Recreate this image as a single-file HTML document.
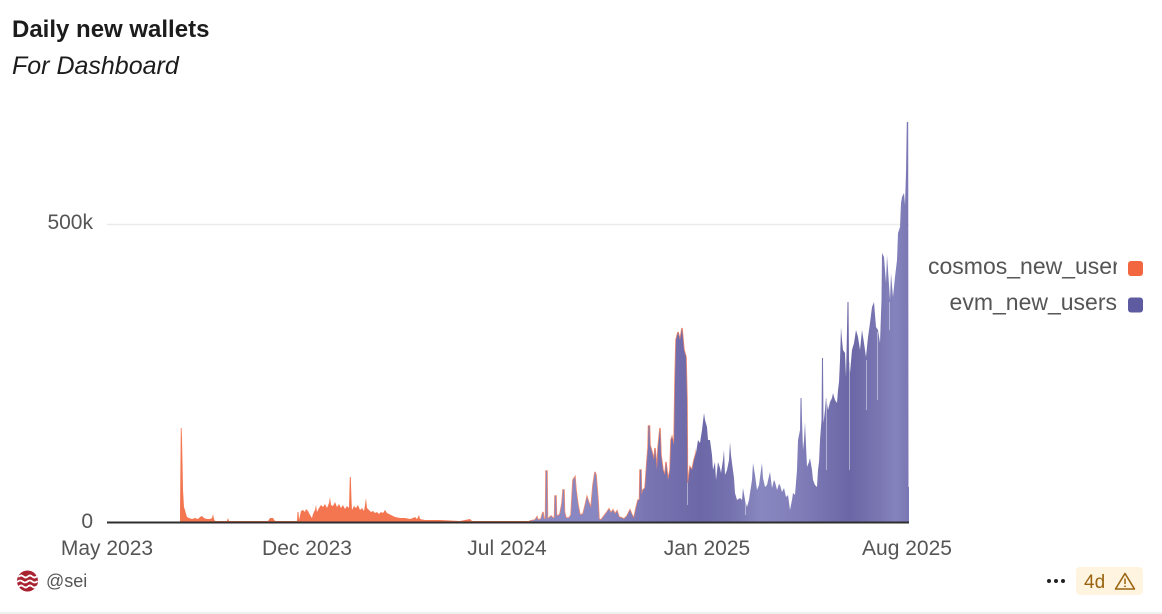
<!DOCTYPE html>
<html><head><meta charset="utf-8">
<style>
html,body{margin:0;padding:0;background:#fff;}
body{width:1162px;height:614px;overflow:hidden;position:relative;font-family:"Liberation Sans",sans-serif;}
.leg{position:absolute;left:928px;width:189px;overflow:hidden;white-space:nowrap;text-align:right;font-size:23px;color:#555;line-height:28px;}
</style></head>
<body>
<svg width="1162" height="614" viewBox="0 0 1162 614" xmlns="http://www.w3.org/2000/svg" style="position:absolute;left:0;top:0">
<defs>
<linearGradient id="pg" gradientUnits="userSpaceOnUse" x1="530" y1="0" x2="909" y2="0">
<stop offset="0" stop-color="#8a88c2"/>
<stop offset="0.185" stop-color="#8987c1"/>
<stop offset="0.317" stop-color="#7874b2"/>
<stop offset="0.449" stop-color="#6c68a7"/>
<stop offset="0.528" stop-color="#7471ae"/>
<stop offset="0.607" stop-color="#8987bf"/>
<stop offset="0.712" stop-color="#807db9"/>
<stop offset="0.844" stop-color="#6b67a6"/>
<stop offset="0.923" stop-color="#7a77b3"/>
<stop offset="0.963" stop-color="#8583bd"/>
<stop offset="1" stop-color="#7a77b4"/>
</linearGradient>
<clipPath id="oc"><rect x="526" y="300" width="170" height="221"/></clipPath>
<path id="pur" d="M530,522 L530,521 L535,520 L537,517 L538,520 L541,519 L543,512 L544,519 L545.5,519 L546,471 L547,471 L547.5,519 L549,518 L551,516 L553,518 L554.5,518 L555,496 L556,496 L556.5,515 L558,516 L560,514 L562,503 L563,490 L564,490 L564.5,512 L566,518 L569,518 L571,515 L573,480 L575,477 L576,490 L578,505 L580,515 L583,514 L585,506 L587,497 L589,503 L591,508 L593,485 L595,472 L596,475 L598,500 L599,519 L601,520 L604,516 L607,512 L609,509 L611,513 L613,510 L615,514 L617,511 L619,517 L622,518 L624,519 L627,516 L629,512 L630,510 L632,515 L634,518 L636,508 L638,500 L639.5,500 L640,470 L641,470 L641.5,495 L643,490 L645,488 L647,460 L648,448 L648.5,426 L649.5,426 L650,445 L652,452 L654,460 L655,448 L657,470 L658,448 L660,428 L661,455 L663,470 L665,475 L666,462 L668,480 L670,470 L671,440 L672,437 L674,445 L675,380 L676,340 L678,332 L680,340 L682,328 L684,350 L686,357 L687,400 L687.5,483 L688,483 L690,467 L692,470 L694,460 L696,453 L698,440 L700,443 L702,430 L704,413 L705,420 L707,427 L708,440 L710,440 L712,455 L713,470 L715,462 L716,480 L718,462 L720,468 L721,473 L723,460 L724,450 L725,475 L727,470 L729,460 L730,442 L731,455 L732,463 L734,478 L735,493 L737,500 L740,498 L742,500 L743,488 L745,500 L747,507 L749,500 L750,493 L752,480 L753,463 L755,475 L757,490 L759,485 L761,470 L762,463 L763,478 L765,487 L767,485 L769,476 L770,472 L772,488 L774,480 L775,482 L777,490 L779,484 L780,485 L782,492 L784,488 L786,497 L788,495 L790,510 L792,500 L793,493 L795,495 L797,470 L798,440 L800,430 L800.5,398 L801.5,398 L802,420 L803,450 L804,440 L805,422 L806,445 L807,467 L809,462 L810,458 L812,470 L813,480 L815,485 L817,487 L818,470 L819,462 L820,440 L821.5,420 L822,358 L823,358 L823.5,423 L825,410 L826,397 L828,410 L830,402 L832,398 L833,393 L835,400 L837,403 L838,390 L839,382 L840,360 L841,327 L842,340 L843,350 L845,353 L846,377 L847,330 L847.5,302 L848.5,302 L849,360 L850,373 L852,350 L854,343 L856,330 L858,337 L860,350 L862,330 L864,343 L866,357 L868,337 L870,323 L872,307 L874,302 L876,327 L878,330 L880,343 L881.5,300 L882,253 L884,257 L886,283 L887,255 L888,270 L890,300 L891,273 L893,297 L895,277 L897,260 L898,233 L900,227 L901,203 L902,197 L904,193 L905,205 L906,172 L906.8,122 L908.2,122 L908.5,487 L909,487 L909,522 Z"/>
</defs>

<!-- title -->
<text x="12" y="37" font-family="Liberation Sans, sans-serif" font-size="24" font-weight="bold" fill="#1c1c1c">Daily new wallets</text>
<text x="12" y="74" font-family="Liberation Sans, sans-serif" font-size="25" font-style="italic" fill="#1c1c1c">For Dashboard</text>

<!-- gridline -->
<line x1="107" y1="224.5" x2="909" y2="224.5" stroke="#ebebeb" stroke-width="1.5"/>

<!-- y labels -->
<text x="93" y="229" text-anchor="end" font-family="Liberation Sans, sans-serif" font-size="21" fill="#555">500k</text>
<text x="93" y="528" text-anchor="end" font-family="Liberation Sans, sans-serif" font-size="21" fill="#555">0</text>

<!-- orange series -->
<path fill="#f37650" d="M180,522 L180,512 L180.8,428 L181.6,428 L182,440 L182.5,463 L183,490 L184,507 L185,510 L186,514 L187,517 L189,518 L192,519 L195,518 L198,519 L200,517 L202,516 L204,518 L207,519 L210,519 L212,518 L213,514 L214,519 L215,521 L227,521 L228,518 L229,521 L268,521 L270,518 L273,518 L275,521 L297,521 L297.5,512 L298.5,512 L299,520 L301,511 L303,510 L305,512 L306,509 L308,511 L310,515 L312,518 L313,514 L315,510 L316,505 L317,512 L319,508 L321,505 L323,507 L325,504 L327,508 L329,503 L330,497 L331,505 L333,506 L335,502 L337,507 L339,504 L341,508 L343,505 L345,509 L347,506 L349,508 L349.8,477 L350.8,477 L351.5,500 L352,510 L354,506 L356,508 L358,505 L360,510 L362,508 L364,511 L365,505 L366,498 L367,508 L369,510 L371,512 L373,511 L375,513 L377,512 L379,514 L381,512 L383,513 L385,510 L387,513 L389,514 L391,515 L393,516 L395,517 L400,518 L405,518 L410,519 L413,518 L415,517 L417,519 L419,515 L420,519 L425,520 L440,520 L460,521 L470,519 L472,521 L530,521 L530,522 Z"/>

<!-- thin orange tops on purple in low region -->
<use href="#pur" fill="none" stroke="#f37650" stroke-opacity="0.85" stroke-width="1.5" clip-path="url(#oc)"/>
<!-- purple series -->
<use href="#pur" fill="url(#pg)"/>

<!-- a few bar gaps -->
<g stroke="#ffffff" stroke-opacity="0.55" stroke-width="0.8">
<line x1="826.5" y1="400" x2="826.5" y2="470"/>
<line x1="849.5" y1="365" x2="849.5" y2="470"/>
<line x1="866.5" y1="360" x2="866.5" y2="410"/>
<line x1="877.5" y1="332" x2="877.5" y2="400"/>
<line x1="889.5" y1="302" x2="889.5" y2="330"/>
<line x1="687.5" y1="483" x2="687.5" y2="505"/>
<line x1="745.5" y1="500" x2="745.5" y2="515"/>
</g>

<!-- axis -->
<line x1="107" y1="522.5" x2="909" y2="522.5" stroke="#2e2e2e" stroke-width="2"/>

<!-- x labels -->
<g font-family="Liberation Sans, sans-serif" font-size="21" fill="#555" text-anchor="middle">
<text x="107" y="555">May 2023</text>
<text x="307" y="555">Dec 2023</text>
<text x="507" y="555">Jul 2024</text>
<text x="707" y="555">Jan 2025</text>
<text x="907" y="555">Aug 2025</text>
</g>

<!-- legend squares -->
<rect x="1128" y="261" width="15" height="15" rx="3" fill="#f2673f"/>
<rect x="1128" y="297.5" width="15" height="15" rx="3" fill="#5f5ba0"/>

<!-- footer -->
<circle cx="27.5" cy="581" r="10.5" fill="#a8232f"/>
<g fill="none" stroke="#fff" stroke-width="1.8" stroke-linecap="round">
<path d="M19,576.5 q2.2,-2 4.4,0 t4.4,0 t4.4,0 t4.4,0"/>
<path d="M17.8,581.5 q2.4,-2 4.8,0 t4.8,0 t4.8,0 t4.8,0"/>
<path d="M19,586.5 q2.2,-2 4.4,0 t4.4,0 t4.4,0 t4.4,0"/>
</g>
<text x="46" y="587" font-family="Liberation Sans, sans-serif" font-size="18" fill="#555">@sei</text>

<circle cx="1049" cy="581" r="2" fill="#222"/>
<circle cx="1056" cy="581" r="2" fill="#222"/>
<circle cx="1063" cy="581" r="2" fill="#222"/>
<rect x="1076" y="567" width="67" height="28" rx="4" fill="#fff4e0"/>
<text x="1084" y="588" font-family="Liberation Sans, sans-serif" font-size="19" fill="#9a6410">4d</text>
<path d="M1125,573.5 L1134.5,589 L1115.5,589 Z" fill="none" stroke="#9a6410" stroke-width="1.6" stroke-linejoin="round"/>
<line x1="1125" y1="578.5" x2="1125" y2="584" stroke="#9a6410" stroke-width="1.5"/>
<circle cx="1125" cy="586.3" r="0.9" fill="#9a6410"/>

<rect x="0" y="612" width="1162" height="2" fill="#f0f0f0"/>
</svg>

<div class="leg" style="top:252px;">cosmos_new_users</div>
<div class="leg" style="top:288px;">evm_new_users</div>
</body></html>
